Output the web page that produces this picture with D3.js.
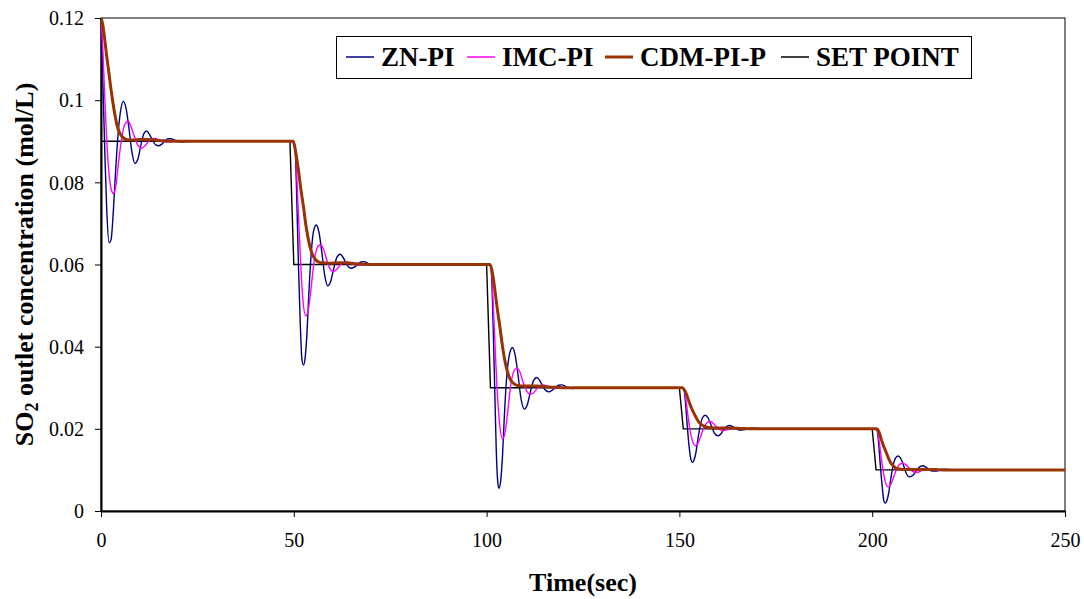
<!DOCTYPE html>
<html>
<head>
<meta charset="utf-8">
<script src="https://cdn.jsdelivr.net/npm/d3@7/dist/d3.min.js"></script>
<style>
  html, body { margin: 0; padding: 0; background: #fff; }
  svg { display: block; font-family: "Liberation Serif", "Times New Roman", serif; }
</style>
</head>
<body>
<svg id="chart" width="1084" height="599"></svg>
<script>
// SO2 outlet concentration step responses: ZN-PI vs IMC-PI vs CDM-PI-P vs set point.

const X_TICKS = [0, 50, 100, 150, 200, 250];
const Y_TICKS = [0, 0.02, 0.04, 0.06, 0.08, 0.1, 0.12];
const Y_TICK_LABELS = ["0", "0.02", "0.04", "0.06", "0.08", "0.1", "0.12"];

const SERIES_NAMES = ["ZN-PI", "IMC-PI", "CDM-PI-P", "SET POINT"];

// [time (sec), concentration (mol/L)]
const setPoint = [
  [0, 0.09], [49, 0.09], [50, 0.06], [100, 0.06], [101, 0.03],
  [150, 0.03], [151, 0.02], [200, 0.02], [201, 0.01], [250, 0.01]
];

const znPI = [
  [0, 0.12], [0.5, 0.104], [1, 0.087], [1.5, 0.073], [2.1, 0.0653], [2.6, 0.066], [3.2, 0.073],
  [3.8, 0.083], [4.5, 0.0925], [5.1, 0.0975], [5.8, 0.0997], [6.5, 0.098], [7.2, 0.0935],
  [8, 0.0875], [8.8, 0.0846], [9.6, 0.0858], [10.4, 0.0893], [11.1, 0.0918], [11.8, 0.0925],
  [12.6, 0.0916], [13.4, 0.0902], [14.2, 0.0891], [15, 0.0889], [15.8, 0.0893], [16.6, 0.0901],
  [17.4, 0.0906], [18.2, 0.0906], [19, 0.0903], [20, 0.0899], [21.2, 0.0898], [22.5, 0.09],
  [50, 0.09], [50.4, 0.087], [50.8, 0.075], [51.2, 0.06], [51.7, 0.045], [52.1, 0.037],
  [52.5, 0.0355], [52.9, 0.037], [53.4, 0.043], [53.9, 0.053], [54.5, 0.0625], [55.1, 0.068],
  [55.8, 0.0696], [56.5, 0.068], [57.2, 0.0635], [58, 0.0575], [58.8, 0.0548], [59.6, 0.056],
  [60.4, 0.0592], [61.2, 0.0618], [62, 0.0625], [62.8, 0.0617], [63.6, 0.0603], [64.3, 0.0593],
  [65, 0.0591], [65.8, 0.0594], [66.6, 0.06], [67.4, 0.0606], [68.2, 0.0607], [69, 0.0604],
  [70, 0.0599], [71.2, 0.0598], [72.5, 0.06],
  [100.9, 0.06], [101.3, 0.057], [101.7, 0.045], [102.1, 0.03], [102.5, 0.015], [102.9, 0.007],
  [103.2, 0.0055], [103.6, 0.007], [104.1, 0.013], [104.6, 0.023], [105.2, 0.0325], [105.9, 0.038],
  [106.7, 0.0398], [107.4, 0.038], [108.1, 0.0335], [108.9, 0.0275], [109.8, 0.0248], [110.6, 0.026],
  [111.4, 0.0292], [112.2, 0.0318], [113, 0.0325], [113.8, 0.0317], [114.6, 0.0303], [115.4, 0.0293],
  [116.2, 0.029], [117, 0.0294], [117.9, 0.0301], [118.7, 0.0306], [119.5, 0.0307], [120.3, 0.0304],
  [121.3, 0.0299], [122.5, 0.0298], [124, 0.03],
  [150.9, 0.03], [151.3, 0.029], [151.7, 0.025], [152.1, 0.02], [152.6, 0.015], [153, 0.0125],
  [153.4, 0.0118], [153.8, 0.0124], [154.3, 0.0143], [154.8, 0.0175], [155.4, 0.0208], [156, 0.0227],
  [156.7, 0.0233], [157.4, 0.0227], [158.1, 0.0212], [159, 0.0191], [159.9, 0.0183], [160.7, 0.0187],
  [161.5, 0.0198], [162.3, 0.0206], [163.1, 0.0208], [163.9, 0.0205], [164.7, 0.0201], [165.5, 0.0197],
  [166.2, 0.0197], [167, 0.0198], [167.9, 0.0201], [168.8, 0.0202], [170, 0.0201], [171.5, 0.02],
  [201, 0.02], [201.4, 0.019], [201.8, 0.015], [202.2, 0.01], [202.7, 0.005], [203, 0.0025],
  [203.4, 0.0019], [203.8, 0.0025], [204.3, 0.0045], [204.8, 0.0077], [205.4, 0.011], [206, 0.0128],
  [206.7, 0.0134], [207.4, 0.0128], [208.1, 0.0112], [208.9, 0.009], [209.7, 0.0083], [210.6, 0.0087],
  [211.5, 0.0099], [212.4, 0.0108], [213.2, 0.011], [214, 0.0106], [214.8, 0.0101], [215.5, 0.0097],
  [216.2, 0.0097], [217, 0.0098], [217.9, 0.0101], [218.8, 0.0102], [220, 0.0101], [221.5, 0.01],
  [250, 0.01]
];

const imcPI = [
  [0, 0.12], [0.5, 0.112], [1, 0.1], [1.5, 0.09], [2, 0.083], [2.6, 0.0785], [3.2, 0.0773],
  [3.8, 0.0788], [4.5, 0.0845], [5.2, 0.0897], [5.9, 0.0933], [6.5, 0.0946], [7.1, 0.0948],
  [7.8, 0.0935], [8.6, 0.0913], [9.5, 0.0891], [10.4, 0.0883], [11.3, 0.0888], [12.2, 0.0898],
  [13, 0.0905], [13.8, 0.0907], [14.8, 0.0904], [16, 0.0899], [17.2, 0.0898], [18.5, 0.09],
  [50, 0.09], [50.4, 0.088], [50.8, 0.081], [51.3, 0.07], [51.8, 0.06], [52.4, 0.051],
  [53.1, 0.0475], [53.7, 0.0487], [54.4, 0.0535], [55.1, 0.0595], [55.8, 0.0633], [56.4, 0.0646],
  [57, 0.0648], [57.7, 0.0637], [58.5, 0.0613], [59.3, 0.0591], [60.2, 0.0583], [61.1, 0.0588],
  [62, 0.0598], [62.8, 0.0605], [63.6, 0.0607], [64.6, 0.0604], [65.8, 0.0599], [67, 0.0598],
  [68.5, 0.06],
  [100.9, 0.06], [101.3, 0.058], [101.7, 0.051], [102.2, 0.04], [102.7, 0.03], [103.4, 0.021],
  [104.1, 0.0175], [104.7, 0.0187], [105.4, 0.0235], [106.1, 0.0295], [106.8, 0.0333], [107.4, 0.0345],
  [108, 0.0347], [108.7, 0.0337], [109.5, 0.0313], [110.4, 0.0292], [111.3, 0.0284], [112.2, 0.0288],
  [113.1, 0.0298], [113.9, 0.0305], [114.7, 0.0307], [115.7, 0.0304], [116.9, 0.0299], [118.1, 0.0298],
  [119.5, 0.03],
  [150.9, 0.03], [151.3, 0.0294], [151.7, 0.027], [152.2, 0.0233], [152.7, 0.02], [153.4, 0.017],
  [154.1, 0.0159], [154.7, 0.0163], [155.4, 0.0178], [156.1, 0.0198], [156.8, 0.0211], [157.4, 0.0217],
  [157.9, 0.0218], [158.6, 0.0215], [159.4, 0.0207], [160.3, 0.0199], [161.2, 0.0196], [162.1, 0.0197],
  [163, 0.02], [163.8, 0.0202], [164.5, 0.0203], [165.5, 0.0201], [166.7, 0.0199], [168, 0.0199],
  [169.5, 0.02],
  [201, 0.02], [201.4, 0.0194], [201.8, 0.017], [202.3, 0.0133], [202.8, 0.01], [203.4, 0.0071],
  [204.1, 0.0059], [204.7, 0.0063], [205.4, 0.0078], [206.1, 0.0097], [206.8, 0.011], [207.4, 0.0115],
  [208, 0.0116], [208.7, 0.0113], [209.5, 0.0105], [210.4, 0.0097], [211.2, 0.0094], [212.1, 0.0095],
  [213, 0.0099], [213.8, 0.0102], [214.6, 0.0103], [215.6, 0.0101], [216.8, 0.0099], [218, 0.0099],
  [219.5, 0.01], [250, 0.01]
];

const cdmPIP = [
  [0, 0.12], [0.5, 0.1182], [1, 0.1145], [1.5, 0.1105], [2, 0.107], [2.5, 0.1033], [3, 0.1],
  [3.6, 0.0965], [4.2, 0.0937], [4.9, 0.0919], [5.6, 0.091], [6.3, 0.0905], [7.2, 0.0903],
  [8.5, 0.0903], [10, 0.0904], [12, 0.0904], [14, 0.0903], [16, 0.0901], [18, 0.09],
  [49.8, 0.09], [50.3, 0.0884], [50.8, 0.0855], [51.2, 0.083], [51.8, 0.0785], [52.5, 0.0741],
  [53.1, 0.0698], [53.8, 0.066], [54.4, 0.0636], [55.1, 0.0619], [55.8, 0.061], [56.5, 0.0606],
  [57.4, 0.0604], [59, 0.0603], [62, 0.0604], [65, 0.0603], [67, 0.0601], [69, 0.06],
  [100.9, 0.06], [101.4, 0.0585], [101.8, 0.0563], [102.2, 0.0534], [102.8, 0.049], [103.5, 0.0445],
  [104.1, 0.0402], [104.8, 0.0363], [105.5, 0.0336], [106.1, 0.0321], [106.8, 0.0312], [107.4, 0.0308],
  [108.3, 0.0305], [110, 0.0304], [113, 0.0304], [116, 0.0302], [118, 0.0301], [120, 0.03],
  [150.7, 0.03], [151.2, 0.0296], [151.8, 0.0285], [152.5, 0.0266], [153.3, 0.0247], [154.2, 0.023],
  [155, 0.0217], [155.9, 0.0209], [156.8, 0.0205], [157.6, 0.0203], [159, 0.0202], [163, 0.0202],
  [166, 0.0201], [169, 0.02],
  [201.1, 0.02], [201.6, 0.0196], [202, 0.0186], [202.4, 0.0173], [203, 0.0157], [203.7, 0.0141],
  [204.3, 0.0127], [204.9, 0.0116], [205.6, 0.0109], [206.2, 0.0104], [207, 0.0102], [208, 0.0101],
  [212, 0.0101], [216, 0.0101], [219, 0.01], [250, 0.01]
];

const svg = d3.select("#chart");
const W = 1084, H = 599;
const m = { left: 101, right: 1065, top: 18, bottom: 511 };

const x = d3.scaleLinear().domain([0, 250]).range([m.left, m.right]);
const y = d3.scaleLinear().domain([0, 0.12]).range([m.bottom, m.top]);

svg.append("rect").attr("width", W).attr("height", H).attr("fill", "#fff");

// plot border
svg.append("rect")
  .attr("x", m.left).attr("y", m.top)
  .attr("width", m.right - m.left).attr("height", m.bottom - m.top)
  .attr("fill", "none").attr("stroke", "#000").attr("stroke-width", 1);

svg.append("clipPath").attr("id", "plot")
  .append("rect")
  .attr("x", m.left).attr("y", m.top - 2)
  .attr("width", m.right - m.left).attr("height", m.bottom - m.top + 2);

// axes
const xAxis = svg.append("g")
  .attr("transform", `translate(0,${m.bottom})`)
  .call(d3.axisBottom(x).tickValues(X_TICKS).tickSize(6).tickSizeOuter(0).tickPadding(16));
const yAxis = svg.append("g")
  .attr("transform", `translate(${m.left},0)`)
  .call(d3.axisLeft(y).tickValues(Y_TICKS).tickSize(6).tickSizeOuter(0).tickPadding(11)
    .tickFormat((d, i) => Y_TICK_LABELS[i]));

[xAxis, yAxis].forEach(g => {
  g.select(".domain").attr("stroke", "#000").attr("stroke-width", 2);
  g.selectAll(".tick line").attr("stroke", "#000").attr("stroke-width", 1);
  g.selectAll(".tick text")
    .attr("fill", "#000")
    .style("font-family", "'Liberation Serif', 'Times New Roman', serif")
    .style("font-size", "20px");
});
yAxis.selectAll(".tick text").attr("dy", "0.34em");

// series
const line = d3.line()
  .x(d => x(d[0]))
  .y(d => y(d[1]))
  .curve(d3.curveMonotoneX);

const plot = svg.append("g").attr("clip-path", "url(#plot)");

plot.append("path").datum(setPoint)
  .attr("fill", "none").attr("stroke", "#000").attr("stroke-width", 1.4)
  .attr("d", d3.line().x(d => x(d[0])).y(d => y(d[1])));

plot.append("path").datum(znPI)
  .attr("fill", "none").attr("stroke", "#000080").attr("stroke-width", 1.4)
  .attr("d", line);

plot.append("path").datum(imcPI)
  .attr("fill", "none").attr("stroke", "#ff00ff").attr("stroke-width", 1.4)
  .attr("d", line);

plot.append("path").datum(cdmPIP)
  .attr("fill", "none").attr("stroke", "#993300").attr("stroke-width", 3)
  .attr("stroke-linejoin", "round")
  .attr("d", line);

// legend
const legend = svg.append("g");
legend.append("rect")
  .attr("x", 336.5).attr("y", 36.5).attr("width", 635).attr("height", 42)
  .attr("fill", "#fff").attr("stroke", "#000").attr("stroke-width", 1);

const legendItems = [
  { name: SERIES_NAMES[0], color: "#000080", w: 1.5, x0: 346 },
  { name: SERIES_NAMES[1], color: "#ff00ff", w: 1.5, x0: 467 },
  { name: SERIES_NAMES[2], color: "#993300", w: 3, x0: 605 },
  { name: SERIES_NAMES[3], color: "#000", w: 1.5, x0: 781 }
];
legendItems.forEach(it => {
  legend.append("line")
    .attr("x1", it.x0).attr("x2", it.x0 + 28)
    .attr("y1", 57).attr("y2", 57)
    .attr("stroke", it.color).attr("stroke-width", it.w);
  legend.append("text")
    .attr("x", it.x0 + 35).attr("y", 66)
    .attr("font-size", 27).attr("font-weight", "bold")
    .text(it.name);
});

// axis titles
svg.append("text")
  .attr("x", (m.left + m.right) / 2).attr("y", 591)
  .attr("text-anchor", "middle")
  .attr("font-size", 26).attr("font-weight", "bold")
  .text("Time(sec)");

const yTitle = svg.append("text")
  .attr("transform", `translate(33,${(m.top + m.bottom) / 2}) rotate(-90)`)
  .attr("text-anchor", "middle")
  .attr("font-size", 26).attr("font-weight", "bold");
yTitle.append("tspan").text("SO");
yTitle.append("tspan").attr("font-size", 18).attr("dy", 5).text("2");
yTitle.append("tspan").attr("dy", -5).text(" outlet concentration (mol/L)");
</script>
</body>
</html>
